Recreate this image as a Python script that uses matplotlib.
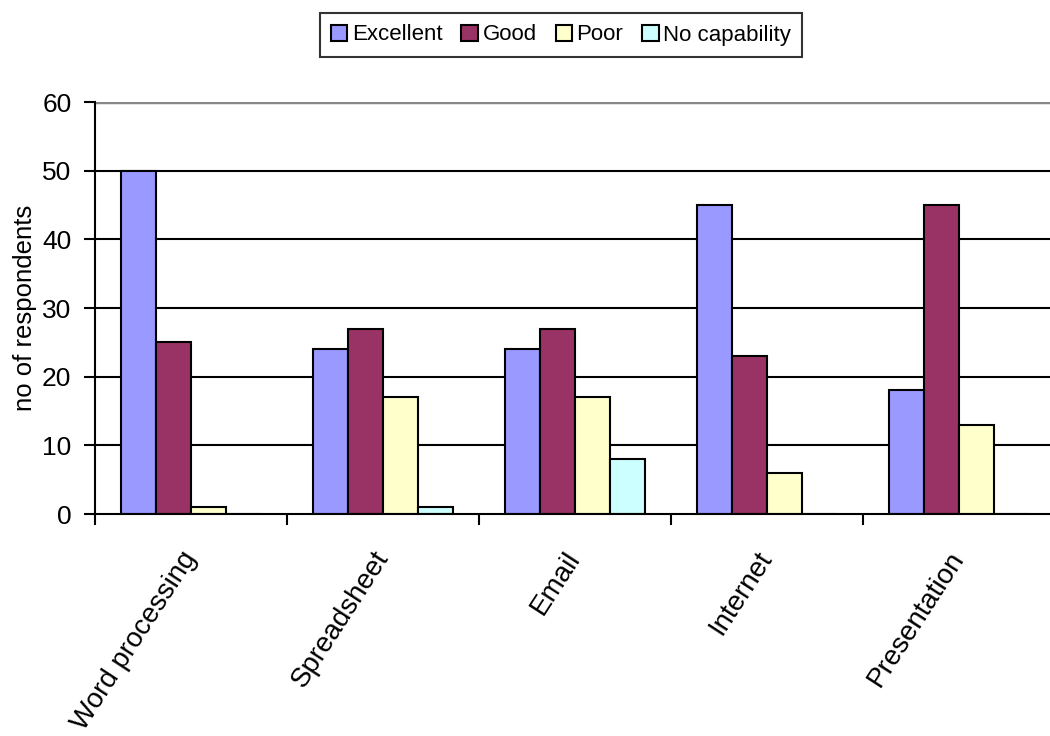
import numpy as np
import matplotlib
matplotlib.use('Agg')
import matplotlib.pyplot as plt

plt.rcParams['font.family'] = ['Liberation Sans', 'DejaVu Sans']

categories = ['Word processing', 'Spreadsheet', 'Email', 'Internet', 'Presentation']
series = ['Excellent', 'Good', 'Poor', 'No capability']
excellent = [50, 24, 24, 45, 18]
good = [25, 27, 27, 23, 45]
poor = [1, 17, 17, 6, 13]
no_cap = [0, 1, 8, 0, 0]
colors = ['#9999FF', '#993366', '#FFFFCC', '#CCFFFF']

fig = plt.figure(figsize=(10.5, 7.36), dpi=100, facecolor='white')
ax = fig.add_axes([95/1050, 1-514/736, 960/1050, 412/736])

x = np.arange(len(categories)) + 0.5
w = 0.182
for i, (vals, c, name) in enumerate(zip([excellent, good, poor, no_cap], colors, series)):
    ax.bar(x + (i - 1.5) * w, vals, w, color=c, edgecolor='black', linewidth=1.5,
           label=name, zorder=3)

ax.set_xlim(0, len(categories))
ax.set_ylim(0, 60)
ax.set_yticks(range(0, 61, 10))
ax.set_xticks(range(len(categories) + 1))
ax.set_xticklabels([])
ax.tick_params(axis='both', which='major', direction='out', length=8, width=1.5,
               colors='black', pad=9)
for t in ax.get_yticklabels():
    t.set_fontsize(19)

# rotated category labels
for xi, lab in zip(x, categories):
    ax.text(xi, -5.8, lab, rotation=57, rotation_mode='anchor', ha='right', va='center',
            fontsize=20, clip_on=False)

for yv in range(10, 60, 10):
    ax.axhline(yv, color='black', linewidth=1.5, zorder=1)
ax.axhline(60, color='#888888', linewidth=2.5, zorder=1)

ax.spines['top'].set_visible(False)
ax.spines['right'].set_visible(False)
ax.spines['left'].set_linewidth(1.5)
ax.spines['bottom'].set_linewidth(1.5)
ax.spines['left'].set_zorder(4)
ax.spines['bottom'].set_zorder(4)

ax.set_ylabel('no of respondents', fontsize=18.5)
ax.yaxis.set_label_coords(-58/960, 0.5)

leg = fig.legend(loc='center', bbox_to_anchor=(561/1050, 1-35/736), ncol=4, fontsize=16,
                 frameon=True, fancybox=False, edgecolor='black', handlelength=0.75,
                 handleheight=0.75, handletextpad=0.2, columnspacing=0.85,
                 borderpad=0.5)
leg.get_frame().set_linewidth(1.5)

fig.savefig('out.png', dpi=100)
